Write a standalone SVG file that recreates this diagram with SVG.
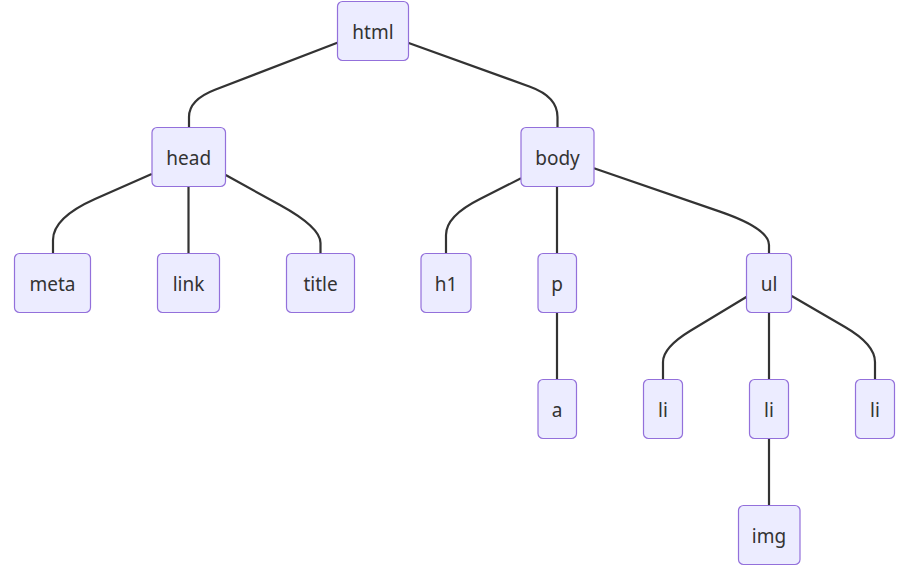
<svg xmlns="http://www.w3.org/2000/svg" width="898" height="569" viewBox="0 0 898 569">
<style>
.node rect{fill:#ECECFF;stroke:#9370DB;stroke-width:1.2}
.node text{font-family:"Noto Sans","Open Sans","DejaVu Sans",sans-serif;font-size:19px;fill:#333;text-anchor:middle;dominant-baseline:central}
.edges path{fill:none;stroke:#333;stroke-width:2.2}
</style>
<rect width="898" height="569" fill="#fff"/>
<g class="edges" id="edges">
<path d="M337.3,42.7 L215,89.8 Q189,99.8 189,117 L189,127.5"/>
<path d="M408.7,43 L530,86.7 Q557.5,96.6 557.5,117 L557.5,127.5"/>
<path d="M151.7,174 L95,199 Q53,217.7 53,240 L53,253.5"/>
<path d="M188.5,186.7 L188.5,253.5"/>
<path d="M225.7,175 L280,205 Q320.5,227.3 320.5,243 L320.5,253.5"/>
<path d="M521,178.3 L480,199 Q446,216 446,235 L446,253.5"/>
<path d="M557,186.7 L557,253.5"/>
<path d="M594,168.3 L720,211.6 Q769,228.5 769,245 L769,253.5"/>
<path d="M557,312.7 L557,379.3"/>
<path d="M746.7,296.7 L690,331 Q663,347.5 663,362 L663,379.3"/>
<path d="M769,312.7 L769,379.3"/>
<path d="M791.7,296 L845,327 Q875,344.4 875,362 L875,379.3"/>
<path d="M769,438.3 L769,505.3"/>
</g>
<g class="node" id="html"><rect x="337.5" y="1.5" width="71" height="59" rx="5"/><text x="373" y="32">html</text></g>
<g class="node" id="head"><rect x="152" y="127.5" width="73.5" height="59" rx="5"/><text x="188.7" y="158">head</text></g>
<g class="node" id="body"><rect x="521" y="127.5" width="73" height="59" rx="5"/><text x="557.5" y="158">body</text></g>
<g class="node" id="meta"><rect x="14.5" y="253.5" width="76" height="59" rx="5"/><text x="52.5" y="284">meta</text></g>
<g class="node" id="link"><rect x="157.5" y="253.5" width="62" height="59" rx="5"/><text x="188.5" y="284">link</text></g>
<g class="node" id="title"><rect x="286.5" y="253.5" width="68" height="59" rx="5"/><text x="320.5" y="284">title</text></g>
<g class="node" id="h1"><rect x="421" y="253.5" width="50" height="59" rx="5"/><text x="446" y="284">h1</text></g>
<g class="node" id="p"><rect x="538" y="253.5" width="38.5" height="59" rx="5"/><text x="557" y="284">p</text></g>
<g class="node" id="ul"><rect x="746.5" y="253.5" width="45" height="59" rx="5"/><text x="769" y="284">ul</text></g>
<g class="node" id="a"><rect x="538" y="379.5" width="38.5" height="59" rx="5"/><text x="557" y="410">a</text></g>
<g class="node" id="li1"><rect x="643.5" y="379.5" width="39" height="59" rx="5"/><text x="663" y="410">li</text></g>
<g class="node" id="li2"><rect x="749.5" y="379.5" width="39" height="59" rx="5"/><text x="769" y="410">li</text></g>
<g class="node" id="li3"><rect x="855.5" y="379.5" width="39" height="59" rx="5"/><text x="875" y="410">li</text></g>
<g class="node" id="img"><rect x="738.5" y="505.5" width="61.5" height="59" rx="5"/><text x="769" y="536">img</text></g>
</svg>
